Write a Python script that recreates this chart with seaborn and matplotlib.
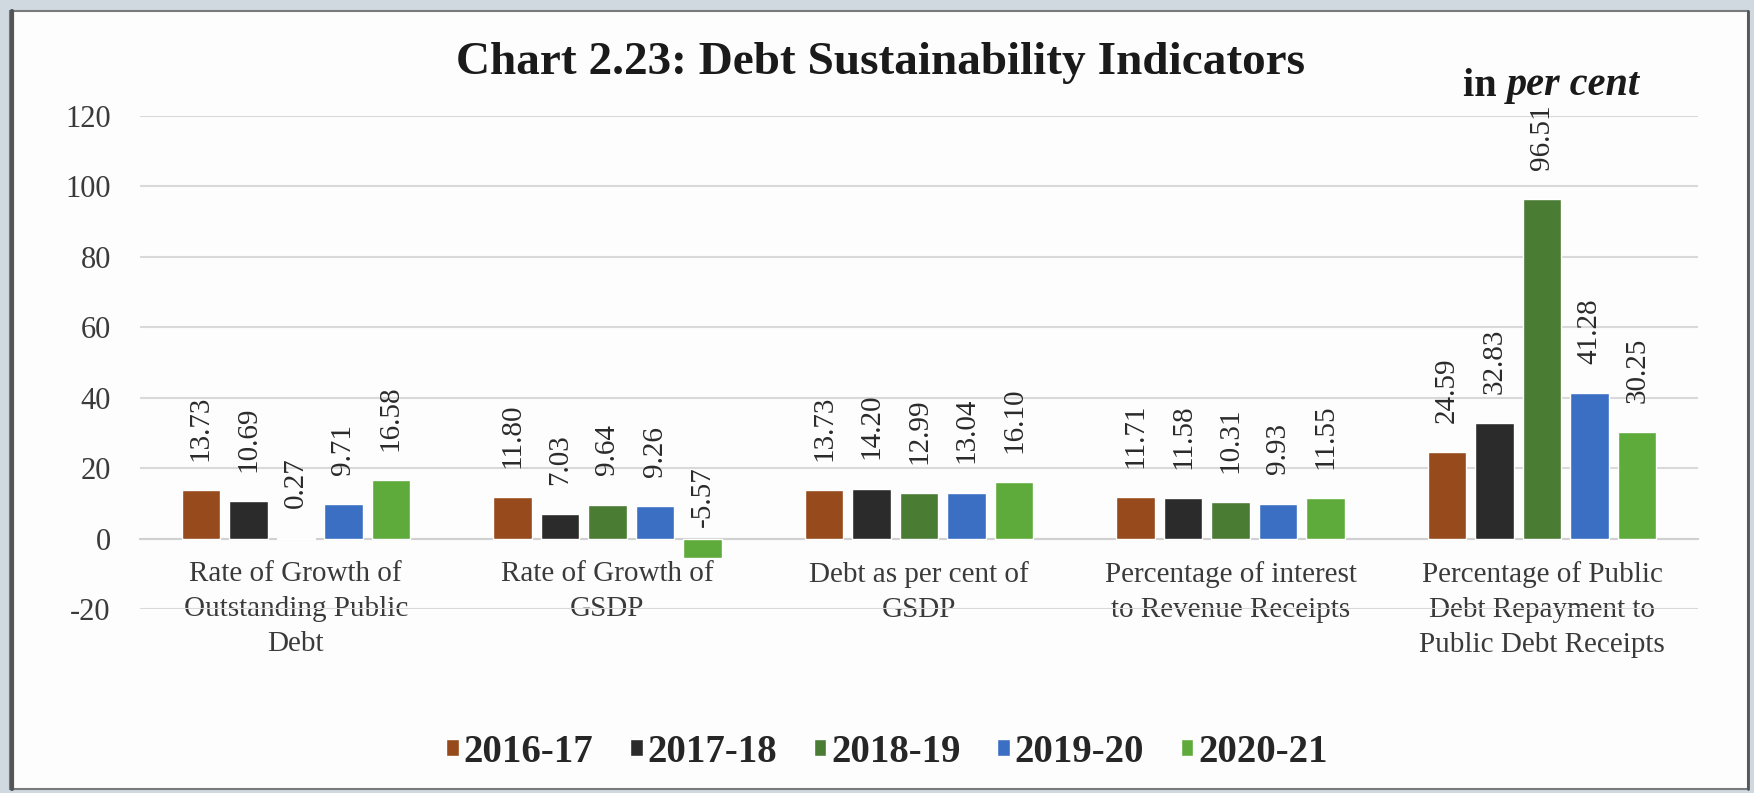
import matplotlib
matplotlib.use("Agg")
import matplotlib.pyplot as plt
import seaborn as sns
import pandas as pd
from matplotlib.patches import Rectangle
from matplotlib.lines import Line2D

categories = [
    "Rate of Growth of\nOutstanding Public\nDebt",
    "Rate of Growth of\nGSDP",
    "Debt as per cent of\nGSDP",
    "Percentage of interest\nto Revenue Receipts",
    "Percentage of Public\nDebt Repayment to\nPublic Debt Receipts",
]
years = ["2016-17", "2017-18", "2018-19", "2019-20", "2020-21"]
v_2016_17 = [13.73, 11.80, 13.73, 11.71, 24.59]
v_2017_18 = [10.69, 7.03, 14.20, 11.58, 32.83]
v_2018_19 = [0.27, 9.64, 12.99, 10.31, 96.51]
v_2019_20 = [9.71, 9.26, 13.04, 9.93, 41.28]
v_2020_21 = [16.58, -5.57, 16.10, 11.55, 30.25]
colors = ["#974a1c", "#2b2b2b", "#4a7c34", "#3a6fc4", "#5eaa3a"]
yticks = [-20, 0, 20, 40, 60, 80, 100, 120]

series = [v_2016_17, v_2017_18, v_2018_19, v_2019_20, v_2020_21]
rows = []
for yr, vals in zip(years, series):
    for c, v in zip(categories, vals):
        rows.append({"Indicator": c, "Year": yr, "Value": v})
df = pd.DataFrame(rows)

sns.set_theme(style="white")
plt.rcParams["font.family"] = ["Liberation Serif", "DejaVu Serif"]

W, H = 1754, 793
fig = plt.figure(figsize=(W / 100, H / 100), dpi=100)
fig.patch.set_facecolor("#d0d9e0")

# white panel with frame
fig.patches.append(Rectangle((10 / W, 1 - 789 / H), (1748 - 10) / W, (789 - 11) / H,
                             transform=fig.transFigure, facecolor="#fdfdfd",
                             edgecolor="#7a7a7a", linewidth=1.5, zorder=-10))
fig.lines.append(Line2D([11.5 / W, 11.5 / W], [1 - 789 / H, 1 - 11 / H],
                        transform=fig.transFigure, color="#555555", linewidth=3,
                        zorder=-9))
fig.lines.append(Line2D([1747.5 / W, 1747.5 / W], [1 - 789 / H, 1 - 11 / H],
                        transform=fig.transFigure, color="#555555", linewidth=2,
                        zorder=-9))

ax = fig.add_axes([140 / W, 1 - 609 / H, (1698 - 140) / W, (609 - 116) / H])
ax.set_facecolor("none")
ax.set_zorder(1)

sns.barplot(data=df, x="Indicator", y="Value", hue="Year", hue_order=years,
            order=categories, palette=colors, width=0.762, gap=0.19,
            saturation=1, ax=ax, zorder=3)

ax.set_ylim(-20, 120)
ax.set_xlim(-0.5, len(categories) - 0.5)
ax.set_yticks(yticks)
ax.set_yticklabels([str(t) for t in yticks])
ax.yaxis.grid(True, color="#d9d9d9", linewidth=1.5, zorder=0)
ax.set_axisbelow(True)
for s in ["left", "right", "top"]:
    ax.spines[s].set_visible(False)
ax.spines["bottom"].set_position(("data", 0))
ax.spines["bottom"].set_color("#d0d0d0")
ax.spines["bottom"].set_linewidth(1.5)
ax.tick_params(axis="both", length=0, colors="#3a3a3a")
ax.tick_params(axis="x", pad=16, labelsize=21)
ax.tick_params(axis="y", pad=21, labelsize=22)
for lbl in ax.get_xticklabels():
    lbl.set_linespacing(1.45)
ax.set_xlabel("")
ax.set_ylabel("")

# data labels
for cont in ax.containers:
    for bar in cont:
        h = bar.get_height()
        xc = bar.get_x() + bar.get_width() / 2
        ypos = max(h, 0)
        off = 21 if h >= 0 else 8
        ax.annotate(f"{h:.2f}", (xc, ypos), xytext=(0, off), textcoords="offset points",
                    rotation=90, ha="center", va="bottom", fontsize=21, color="#2a2a2a",
                    zorder=5)

# legend
ax.legend_.remove()
handles = [Rectangle((0, 0), 1, 1, facecolor=c) for c in colors]
fig.legend(handles, years, loc="center", bbox_to_anchor=(887 / W, 1 - 752 / H),
           ncol=5, frameon=False, handlelength=0.32, handleheight=0.32,
           handletextpad=0.12, columnspacing=0.95,
           prop={"family": "Liberation Serif", "weight": "bold", "size": 28})

fig.text(880 / W, 1 - 63 / H, "Chart 2.23: Debt Sustainability Indicators",
         ha="center", va="center", fontsize=34, fontweight="bold", color="#1a1a1a")
t_in = fig.text(1463 / W, 1 - 86 / H, "in ", ha="left", va="center", fontsize=29,
                fontweight="bold", color="#1a1a1a")
fig.canvas.draw()
bb = t_in.get_window_extent(renderer=fig.canvas.get_renderer())
fig.text(bb.x1 / W, 1 - 86 / H, "per cent", ha="left", va="center", fontsize=29,
         fontweight="bold", fontstyle="italic", color="#1a1a1a")

fig.savefig("out.png", dpi=100, facecolor=fig.get_facecolor())
